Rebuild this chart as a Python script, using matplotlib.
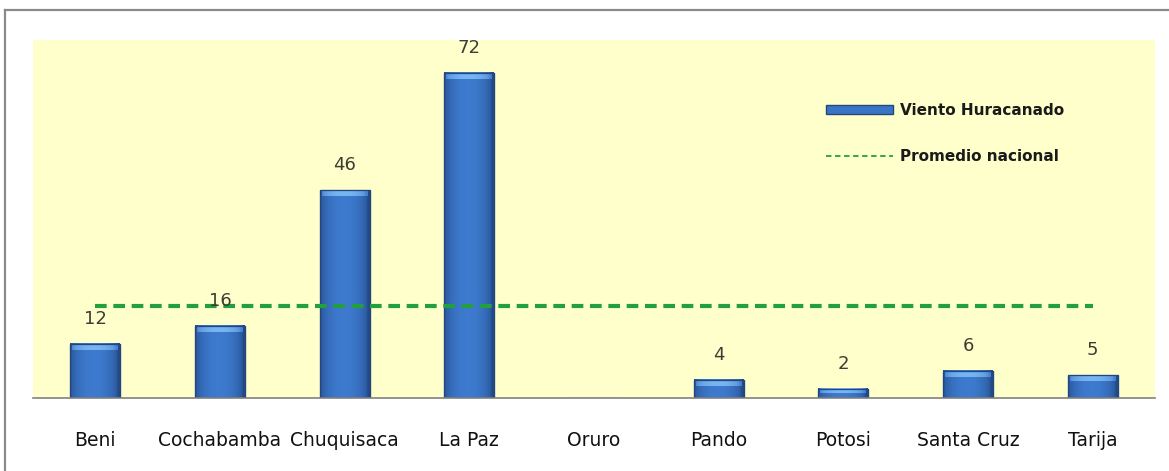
import numpy as np
import matplotlib
matplotlib.use("Agg")
import matplotlib.pyplot as plt
from matplotlib.lines import Line2D
from matplotlib.patches import Patch

# ---------------- data ----------------
categorias = ["Beni", "Cochabamba", "Chuquisaca", "La Paz", "Oruro",
              "Pando", "Potosi", "Santa Cruz", "Tarija"]
valores = [12, 16, 46, 72, 0, 4, 2, 6, 5]
promedio_nacional = 20.4
serie_barras = "Viento Huracanado"
serie_linea = "Promedio nacional"

# ---------------- figure ----------------
W, H = 1169, 471
fig = plt.figure(figsize=(W / 100, H / 100), dpi=100)
fig.patch.set_facecolor("white")

# outer frame (top and left visible)
border_col = "#8a8a8a"
fig.add_artist(Line2D([5 / W, 5 / W], [0, 1 - 9.5 / H], transform=fig.transFigure,
                      color=border_col, lw=1.6))
fig.add_artist(Line2D([5 / W, 1], [1 - 9.5 / H, 1 - 9.5 / H], transform=fig.transFigure,
                      color=border_col, lw=1.6))

ax = fig.add_axes([33 / W, (H - 398) / H, (1155 - 33) / W, (398 - 40) / H])
ax.set_facecolor("#FFFFCC")

x = np.arange(len(categorias))
edge_col = "#22477E"
bars = ax.bar(x, valores, width=0.40, color="#3A74C4", edgecolor=edge_col,
              linewidth=0.8, zorder=2)

YMAX = 79.3
ax.set_ylim(0, YMAX)
ax.set_xlim(-0.5, len(categorias) - 0.5)

# cylinder-like shading for each bar, derived from the bar geometry
cols = np.linspace(0, 1, 80)
prof = np.sin(np.pi * np.clip(cols * 1.04, 0, 1)) ** 0.45
dark = np.array([0.14, 0.29, 0.53])
light = np.array([0.24, 0.48, 0.81])
body = (dark + (light - dark) * prof[:, None])[None, :, :]
cap_dark = np.array([0.28, 0.50, 0.80])
cap_light = np.array([0.47, 0.71, 0.95])
cap = (cap_dark + (cap_light - cap_dark) * prof[:, None])[None, :, :]
px_per_unit = 358 / YMAX
for p in bars:
    h = p.get_height()
    if h <= 0:
        continue
    x0, w = p.get_x(), p.get_width()
    ax.imshow(body, extent=(x0, x0 + w, 0, h), aspect="auto",
              interpolation="bicubic", zorder=2.2)
    ch = min(6 / px_per_unit, h * 0.45)
    ax.imshow(cap, extent=(x0 + w * 0.04, x0 + w * 0.96, h - ch, h), aspect="auto",
              interpolation="bicubic", zorder=2.3)
    ax.add_patch(plt.Rectangle((x0, 0), w, h, fill=False, edgecolor=edge_col,
                               lw=0.9, zorder=2.4))

ax.set_ylim(0, YMAX)
ax.set_xlim(-0.5, len(categorias) - 0.5)

# national average dashed line
ax.plot([x[0], x[-1]], [promedio_nacional] * 2, color="#22A040", lw=3.0,
        dashes=(2.8, 1.6), solid_capstyle="butt", dash_capstyle="butt", zorder=3)

# data labels
for xi, v in zip(x, valores):
    if v == 0:
        continue
    ax.annotate(str(v), (xi, v), xytext=(0, 18), textcoords="offset points",
                ha="center", va="center", fontsize=13, color="#3c3c34", zorder=4)

# axes styling
for s in ["top", "right", "left"]:
    ax.spines[s].set_visible(False)
ax.spines["bottom"].set_color("#808080")
ax.spines["bottom"].set_linewidth(1.2)
ax.set_yticks([])
ax.set_xticks(x)
ax.set_xticklabels(categorias, fontsize=13.5, fontweight="normal", color="#111111")
ax.tick_params(axis="x", length=0, pad=24)

# legend
handles = [Patch(facecolor="#3A74C4", edgecolor=edge_col, label=serie_barras),
           Line2D([], [], color="#22A040", lw=1.3, dashes=(3, 2), label=serie_linea)]
leg = ax.legend(handles=handles, loc="upper left",
                bbox_to_anchor=((826 - 33) / (1155 - 33), 1 - (103 - 40) / (398 - 40)),
                frameon=False, handlelength=4.4, handleheight=0.5,
                handletextpad=0.45, labelspacing=2.0, borderpad=0, borderaxespad=0,
                prop={"weight": "bold", "size": 11})
for t in leg.get_texts():
    t.set_color("#1a1a1a")

fig.savefig("out.png", dpi=100, facecolor="white")
